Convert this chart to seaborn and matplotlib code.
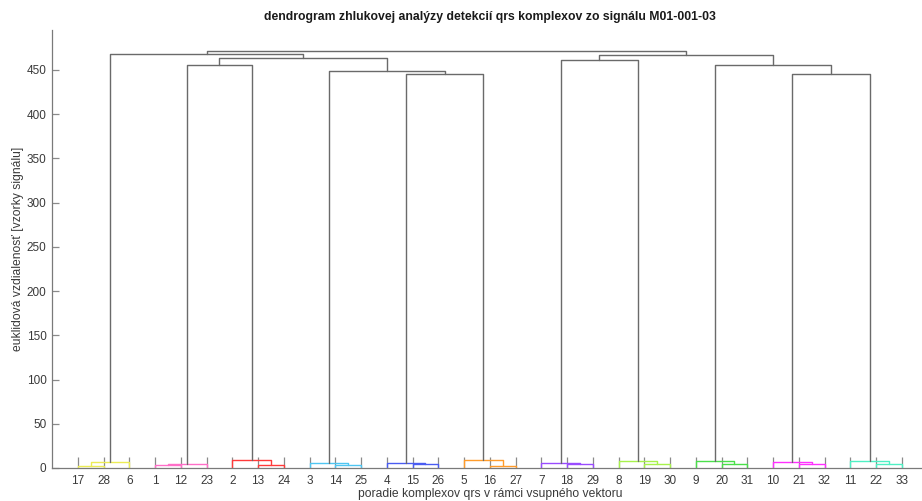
import numpy as np
import pandas as pd
import matplotlib
matplotlib.use("Agg")
import matplotlib.pyplot as plt
import seaborn as sns

# ---- data ----
leaf_labels = [17, 28, 6, 1, 12, 23, 2, 13, 24, 3, 14, 25, 4, 15, 26, 5, 16, 27,
               7, 18, 29, 8, 19, 30, 9, 20, 31, 10, 21, 32, 11, 22, 33]

merge_names = ["a1", "G1", "a2", "G2", "a3", "G3", "a4", "G4", "a5", "G5", "a6", "G6",
               "a7", "G7", "a8", "G8", "a9", "G9", "a10", "G10", "a11", "G11",
               "G23", "G56", "G456", "L1", "L", "G78", "G1011", "G91011", "R", "root"]
merge_left = [17, "a1", 1, "a2", 13, 2, 14, 3, 15, 4, 16, 5,
              18, 7, 19, 8, 20, 9, 21, 10, 22, 11,
              "G2", "G5", "G4", "G23", "G1", "G7", "G10", "G9", "G78", "L"]
merge_right = [28, 6, 12, 23, 24, "a3", 25, "a4", 26, "a5", 27, "a6",
               29, "a7", 30, "a8", 31, "a9", 32, "a10", 33, "a11",
               "G3", "G6", "G56", "G456", "L1", "G8", "G11", "G1011", "G91011", "R"]
merge_heights = [2.0, 7.0, 3.0, 4.5, 3.5, 8.5, 3.5, 5.5, 4.5, 6.0, 2.5, 9.0,
                 4.5, 6.0, 4.5, 8.0, 4.5, 7.5, 5.0, 6.5, 5.0, 8.0,
                 455.6, 445.5, 448.9, 463.0, 468.0, 460.9, 445.1, 455.4, 466.9, 471.8]

y_ticks = [0, 50, 100, 150, 200, 250, 300, 350, 400, 450]

title = "dendrogram zhlukovej analýzy detekcií qrs komplexov zo signálu M01-001-03"
x_label = "poradie komplexov qrs v rámci vsupného vektoru"
y_label = "euklidová vzdialenosť [vzorky signálu]"

cluster_colors = ["#ecec55", "#ff6fc8", "#ff3a3a", "#4fc6f2", "#4a5cf2", "#ff9c2c",
                  "#9a4cff", "#a8f24c", "#4ae04a", "#ff30ff", "#4ff0c4"]
above_color = "#6a6a6a"

# ---- build tree geometry ----
pos = {str(l): i + 1 for i, l in enumerate(leaf_labels)}
hgt = {str(l): 0.0 for l in leaf_labels}
children = {}
for n, l, r, h in zip(merge_names, merge_left, merge_right, merge_heights):
    l, r = str(l), str(r)
    pos[n] = (pos[l] + pos[r]) / 2.0
    hgt[n] = h
    children[n] = (l, r)

threshold = 0.7 * max(merge_heights)
link_cluster = {}
counter = [0]


def assign(node, cl):
    if node not in children:
        return
    if cl is None and hgt[node] < threshold:
        cl = f"c{counter[0]}"
        counter[0] += 1
    link_cluster[node] = cl if cl is not None else "above"
    for c in children[node]:
        assign(c, cl)


assign(merge_names[-1], None)

rows = []
for n in merge_names:
    l, r = children[n]
    pts = [(pos[l], hgt[l]), (pos[l], hgt[n]), (pos[r], hgt[n]), (pos[r], hgt[r])]
    for k, (x, y) in enumerate(pts):
        rows.append({"link": n, "order": k, "x": x, "y": y, "cluster": link_cluster[n]})
df = pd.DataFrame(rows)

palette = {f"c{i}": c for i, c in enumerate(cluster_colors)}
palette["above"] = above_color

# ---- plot ----
sns.set_style("white")
plt.rcParams["font.family"] = ["Liberation Sans", "DejaVu Sans"]

fig = plt.figure(figsize=(9.22, 5.01), dpi=100)
ax = fig.add_axes([52 / 922, 33 / 501, 875.5 / 922, 438 / 501])

sns.lineplot(data=df, x="x", y="y", units="link", estimator=None, sort=False,
             hue="cluster", palette=palette, legend=False, linewidth=1.0, ax=ax)

ax.set_xlim(0, len(leaf_labels) + 1)
ax.set_ylim(0, 495)
ax.set_xticks(range(1, len(leaf_labels) + 1))
ax.set_xticklabels([str(l) for l in leaf_labels])
ax.set_yticks(y_ticks)

for s in ["top", "right"]:
    ax.spines[s].set_visible(False)
for s in ["left", "bottom"]:
    ax.spines[s].set_color("#7a7a7a")
    ax.spines[s].set_linewidth(0.9)

ax.tick_params(axis="x", bottom=True, direction="in", length=8, width=0.9, color="#8a8a8a",
               labelsize=8.5, labelcolor="#3a3a3a", pad=5)
ax.tick_params(axis="y", left=True, direction="in", length=5, width=0.9, color="#8a8a8a",
               labelsize=8.5, labelcolor="#3a3a3a", pad=4)

ax.set_title(title, fontsize=8.8, fontweight="bold", color="#1a1a1a", pad=7)
ax.set_xlabel(x_label, fontsize=8.7, color="#3a3a3a", labelpad=1)
ax.set_ylabel(y_label, fontsize=8.7, color="#3a3a3a", labelpad=2)

fig.savefig("out.png", dpi=100)
